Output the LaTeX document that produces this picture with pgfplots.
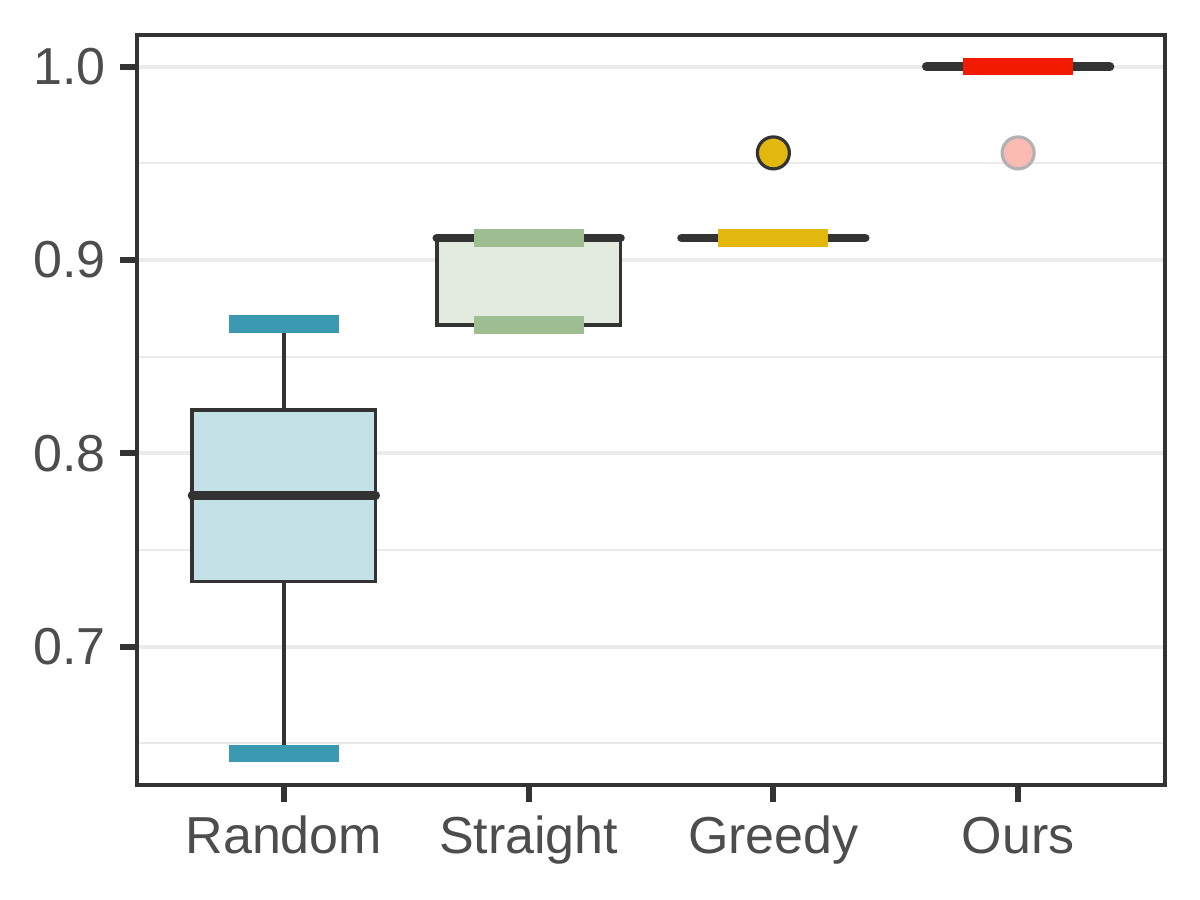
\documentclass[border=0pt]{standalone}
\usepackage{fontspec}
\setmainfont{Liberation Sans}
\usepackage{pgfplots}
\pgfplotsset{compat=1.18}
\usepgfplotslibrary{statistics}
\definecolor{framec}{HTML}{333333}
\definecolor{ticktext}{HTML}{4D4D4D}
\definecolor{gridc}{HTML}{EBEBEB}
\definecolor{cRand}{HTML}{3B9AB2}
\definecolor{cStr}{HTML}{9EBE91}
\definecolor{cGre}{HTML}{E2B80E}
\definecolor{cOurs}{HTML}{F21A00}
\begin{document}
\begin{tikzpicture}
\useasboundingbox (-34.25bp,-28.75bp) rectangle (265.75bp,196.25bp);
\begin{axis}[
  at={(0,0)}, anchor=south west,
  width=257bp, height=187.5bp, scale only axis,
  xmin=0.4, xmax=4.6, ymin=0.6284, ymax=1.0164,
  axis line style={draw=framec, line width=1bp},
  tick align=outside,
  major tick length=4.25bp,
  minor tick length=0pt,
  tick style={draw=framec, line width=1.5bp},
  xtick={1,2,3,4},
  xticklabels={Random,Straight,Greedy,Ours},
  ytick={0.7,0.8,0.9,1.0},
  minor ytick={0.65,0.75,0.85,0.95},
  yticklabel style={/pgf/number format/fixed, /pgf/number format/fixed zerofill,
    /pgf/number format/precision=1},
  xticklabel style={text height=0.75em, text depth=0.22em, yshift=-2bp},
  /pgf/number format/assume math mode=true,
  ticklabel style={font=\fontsize{13bp}{15bp}\selectfont, text=ticktext},
  xtick pos=bottom, ytick pos=left,
  ymajorgrids, yminorgrids,
  major grid style={draw=gridc, line width=1bp},
  minor grid style={draw=gridc, line width=0.5bp},
  boxplot/draw direction=y,
  boxplot/every median/.style={line width=2.2bp},
  boxplot/box extend=0.75,
  boxplot/whisker extend=0,
]
% Random
\addplot[boxplot prepared={lower whisker=0.6446, lower quartile=0.7337, median=0.7782,
  upper quartile=0.8223, upper whisker=0.8668, draw position=1},
  draw=framec, fill=cRand!30, line width=0.9bp, line cap=round, solid] coordinates {};
\addplot[cRand, line width=4.4bp] coordinates {(0.775,0.8668) (1.225,0.8668)};
\addplot[cRand, line width=4.4bp] coordinates {(0.775,0.6446) (1.225,0.6446)};
% Straight
\addplot[boxplot prepared={lower whisker=0.8663, lower quartile=0.8663, median=0.9114,
  upper quartile=0.9114, upper whisker=0.9114, draw position=2},
  draw=framec, fill=cStr!30, line width=0.9bp, line cap=round, solid] coordinates {};
\addplot[cStr, line width=4.4bp] coordinates {(1.775,0.9114) (2.225,0.9114)};
\addplot[cStr, line width=4.4bp] coordinates {(1.775,0.8665) (2.225,0.8665)};
% Greedy
\addplot[boxplot prepared={lower whisker=0.9114, lower quartile=0.9114, median=0.9114,
  upper quartile=0.9114, upper whisker=0.9114, draw position=3},
  draw=framec, fill=cGre!30, line width=0.9bp, line cap=round, solid] coordinates {};
\addplot[cGre, line width=4.4bp] coordinates {(2.775,0.9114) (3.225,0.9114)};
\addplot[only marks, mark=*, mark size=4bp,
  mark options={fill=cGre, draw=framec, line width=0.8bp}] coordinates {(3,0.9554)};
% Ours
\addplot[boxplot prepared={lower whisker=1.0, lower quartile=1.0, median=1.0,
  upper quartile=1.0, upper whisker=1.0, draw position=4},
  draw=framec, fill=cOurs!30, line width=0.9bp, line cap=round, solid] coordinates {};
\addplot[cOurs, line width=4.4bp] coordinates {(3.775,1.0) (4.225,1.0)};
\addplot[only marks, mark=*, mark size=4bp,
  mark options={fill=cOurs!30, draw=black!30, line width=0.8bp}] coordinates {(4,0.9554)};
\end{axis}
\end{tikzpicture}
\end{document}
